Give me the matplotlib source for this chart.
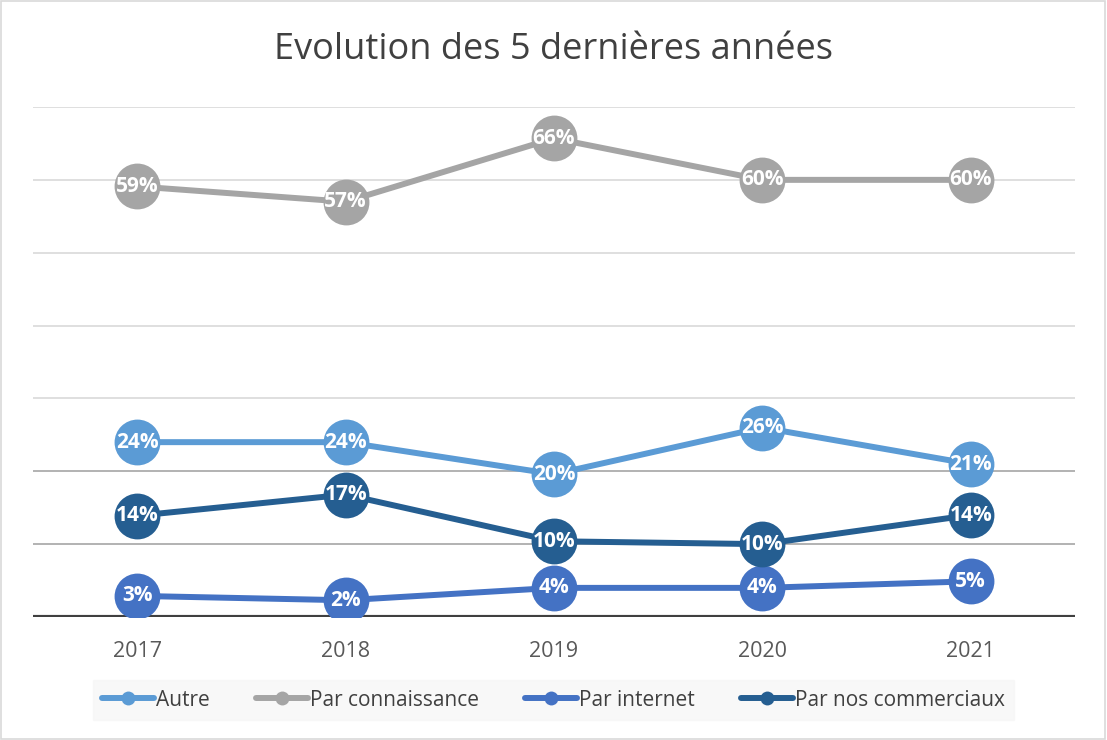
import matplotlib
matplotlib.use("Agg")
from matplotlib import pyplot as plt
from matplotlib.patches import Rectangle

plt.rcParams['font.family'] = ['Open Sans', 'DejaVu Sans']

# data
years = ['2017', '2018', '2019', '2020', '2021']
autre = [24, 24, 19.6, 26, 21]
connaissance = [59.1, 57, 65.7, 60, 60]
internet = [2.9, 2.3, 4, 4, 4.9]
commerciaux = [13.9, 16.8, 10.4, 10.0, 14]

series = [
    ('Autre', autre, '#5B9BD5'),
    ('Par connaissance', connaissance, '#A5A5A5'),
    ('Par internet', internet, '#4472C4'),
    ('Par nos commerciaux', commerciaux, '#255E91'),
]

fig = plt.figure(figsize=(11.07, 7.40), dpi=100)
ax = fig.add_axes([0.0298, 0.1662, 0.9413, 0.6892])

# border around the whole chart
fig.patches.append(Rectangle((0.001, 0.001), 0.997, 0.997, transform=fig.transFigure,
                             fill=False, edgecolor='#d9d9d9', linewidth=1.2))

x = list(range(len(years)))

# gridlines
for g in range(10, 80, 10):
    col = '#a6a6a6' if g <= 20 else '#d9d9d9'
    ax.axhline(g, color=col, linewidth=1.2, zorder=0)
ax.axhline(0, color='#404040', linewidth=3, zorder=1)

for name, vals, col in series:
    ax.plot(x, vals, color=col, linewidth=4.3, marker='o', markersize=33,
            markeredgewidth=0, label=name, solid_capstyle='round', zorder=2)

for name, vals, col in series:
    for xi, v in zip(x, vals):
        ax.text(xi, v, f"{v:.0f}%", color='white', fontsize=15, fontweight='bold',
                ha='center', va='center', zorder=5)

ax.set_xlim(-0.5, 4.5)
ax.set_ylim(0, 70)
ax.set_xticks(x)
ax.set_xticklabels(years, fontsize=15.5, color='#595959')
ax.tick_params(axis='x', length=0, pad=17)
ax.set_yticks([])
for s in ax.spines.values():
    s.set_visible(False)

fig.text(0.5, 0.933, 'Evolution des 5 dernières années', ha='center', va='center',
         fontsize=26, color='#404040')

handles = []
for name, vals, col in series:
    h, = ax.plot([], [], color=col, linewidth=4.3, marker='o', markersize=10,
                 markeredgewidth=0, solid_capstyle='round')
    handles.append(h)
leg = fig.legend(handles, [s[0] for s in series], loc='center', bbox_to_anchor=(0.5, 0.054),
                 ncol=4, frameon=True, fontsize=15, handlelength=2.5, handletextpad=0.1,
                 columnspacing=2.2, borderpad=0.45, fancybox=False)
leg.get_frame().set_facecolor('#f7f7f7')
leg.get_frame().set_edgecolor('#f7f7f7')
for t in leg.get_texts():
    t.set_color('#404040')

fig.savefig('out.png', dpi=100)
